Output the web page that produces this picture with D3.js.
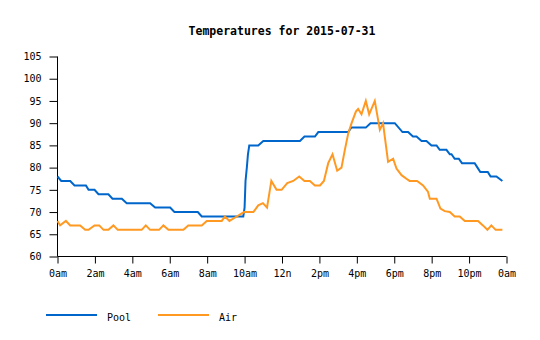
<!DOCTYPE html>
<html>
<head>
<meta charset="utf-8">
<script src="https://cdn.jsdelivr.net/npm/d3@7"></script>
<style>
  html, body { margin: 0; padding: 0; background: #fff; }
  svg { display: block; }
  text { font-family: "DejaVu Sans Mono", "Liberation Mono", monospace; fill: #000; }
</style>
</head>
<body>
<svg id="chart" width="540" height="340"></svg>
<script>
// ---- data (hours since midnight, temperature °F) ----
const chartTitle = "Temperatures for 2015-07-31";
const seriesNames = ["Pool", "Air"];
const seriesColors = ["#0066cc", "#ff9922"];

const poolHours = [0, 0.2, 0.68, 0.91, 1.52, 1.66, 1.98, 2.19, 2.72, 2.94, 3.44, 3.7, 4.95, 5.22, 6.02, 6.25, 7.5, 7.71, 9.93, 10.0, 10.05, 10.12, 10.18, 10.25, 10.73, 11.0, 12.96, 13.2, 13.76, 13.94, 15.54, 15.7, 16.48, 16.73, 18.03, 18.44, 18.74, 19.0, 19.19, 19.46, 19.72, 19.99, 20.26, 20.43, 20.79, 20.97, 21.06, 21.23, 21.45, 21.62, 22.3, 22.45, 22.6, 23.0, 23.15, 23.46, 23.78];
const poolTemps = [78, 77, 77, 76, 76, 75, 75, 74, 74, 73, 73, 72, 72, 71, 71, 70, 70, 69, 69, 71, 77, 80, 83, 85, 85, 86, 86, 87, 87, 88, 88, 89, 89, 90, 90, 88, 88, 87, 87, 86, 86, 85, 85, 84, 84, 83, 83, 82, 82, 81, 81, 80, 79, 79, 78, 78, 77];

const airHours = [0, 0.14, 0.45, 0.68, 1.21, 1.48, 1.66, 1.98, 2.23, 2.46, 2.72, 2.99, 3.22, 4.5, 4.72, 4.95, 5.43, 5.66, 5.93, 6.73, 6.99, 7.71, 7.98, 8.78, 8.95, 9.19, 9.58, 9.97, 10.47, 10.73, 10.98, 11.2, 11.43, 11.71, 11.98, 12.28, 12.6, 12.92, 13.2, 13.49, 13.76, 14.03, 14.24, 14.47, 14.7, 14.95, 15.18, 15.36, 15.54, 15.72, 15.95, 16.07, 16.25, 16.48, 16.66, 16.96, 17.23, 17.4, 17.67, 17.94, 18.12, 18.39, 18.65, 18.82, 19.22, 19.54, 19.8, 19.9, 20.26, 20.47, 20.7, 20.97, 21.23, 21.5, 21.77, 22.48, 22.74, 22.98, 23.19, 23.42, 23.78];
const airTemps = [68, 67, 68, 67, 67, 66, 66, 67, 67, 66, 66, 67, 66, 66, 67, 66, 66, 67, 66, 66, 67, 67, 68, 68, 69, 68, 69, 70, 70, 71.5, 72, 71, 77, 75, 75, 76.5, 77, 78, 77, 77, 76, 76, 77, 81, 83, 79.3, 80, 84, 87.7, 90, 92.6, 93.2, 92, 95, 92, 95, 88.5, 90, 81.3, 82, 79.8, 78.3, 77.5, 77, 77, 76, 74.6, 73, 73, 70.8, 70.2, 70, 69, 69, 68, 68, 67, 66, 67, 66, 66];

const xTickHours = [0, 2, 4, 6, 8, 10, 12, 14, 16, 18, 20, 22, 24];
const xTickLabels = ["0am", "2am", "4am", "6am", "8am", "10am", "12n", "2pm", "4pm", "6pm", "8pm", "10pm", "0am"];
const yTicks = [60, 65, 70, 75, 80, 85, 90, 95, 100, 105];

// ---- drawing ----
const svg = d3.select("#chart");
const x = d3.scaleLinear().domain([0, 24]).range([57.5, 506.5]);
const y = d3.scaleLinear().domain([60, 105]).range([256.5, 56.5]);

svg.append("text")
  .attr("x", 282).attr("y", 35)
  .attr("text-anchor", "middle")
  .style("font-size", "11.5px").style("font-weight", "bold")
  .text(chartTitle);

const xAxis = d3.axisBottom(x).tickValues(xTickHours)
  .tickFormat((d, i) => xTickLabels[i]).tickSize(7).tickPadding(6);
const yAxis = d3.axisLeft(y).tickValues(yTicks).tickSize(8).tickPadding(8);

const gx = svg.append("g").attr("transform", "translate(0,256.5)").call(xAxis);
const gy = svg.append("g").attr("transform", "translate(57.5,0)").call(yAxis);
[gx, gy].forEach(g => {
  g.select(".domain").attr("stroke", "#000").attr("stroke-width", 1);
  g.selectAll(".tick line").attr("stroke", "#000");
  g.selectAll(".tick text").style("font-size", "10px").attr("fill", "#000")
    .style("font-family", '"DejaVu Sans Mono", monospace');
});
gx.select(".domain").attr("d", `M${x(0)},0H${x(24)}`);
gy.select(".domain").attr("d", `M0,${y(60)}V${y(105)}`);

const line = d3.line().x(d => x(d[0])).y(d => y(d[1]));
const poolData = poolHours.map((h, i) => [h, poolTemps[i]]);
const airData = airHours.map((h, i) => [h, airTemps[i]]);

svg.append("path").datum(poolData)
  .attr("fill", "none").attr("stroke", seriesColors[0]).attr("stroke-width", 2)
  .attr("d", line);
svg.append("path").datum(airData)
  .attr("fill", "none").attr("stroke", seriesColors[1]).attr("stroke-width", 2)
  .attr("d", line);

// legend
const legendX = [46, 158];
seriesNames.forEach((name, i) => {
  const g = svg.append("g").attr("transform", `translate(${legendX[i]},315)`);
  g.append("line").attr("x1", 0).attr("x2", 51).attr("y1", 0).attr("y2", 0)
    .attr("stroke", seriesColors[i]).attr("stroke-width", 2);
  g.append("text").attr("x", 61).attr("y", 5.5)
    .style("font-size", "10px").text(name);
});
</script>
</body>
</html>
